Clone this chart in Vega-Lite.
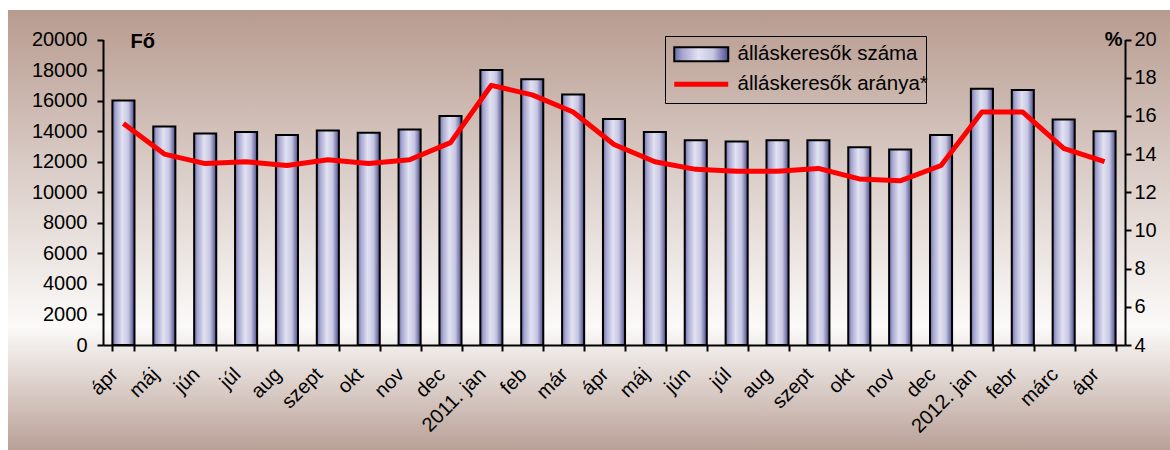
{
  "$schema": "https://vega.github.io/schema/vega-lite/v6.json",
  "width": 1162,
  "height": 440,
  "autosize": {"type": "none"},
  "padding": {"left": 8, "top": 10, "right": 0, "bottom": 0},
  "background": "white",
  "view": {
    "fill": {
      "gradient": "linear", "x1": 0, "y1": 0, "x2": 0, "y2": 1,
      "stops": [
        {"offset": 0, "color": "#b89b8f"},
        {"offset": 0.35, "color": "#d9cbc5"},
        {"offset": 0.72, "color": "#fbfaf9"},
        {"offset": 1, "color": "#b9a096"}
      ]
    },
    "stroke": null
  },
  "config": {"font": "Liberation Sans"},
  "data": {
    "values": [
      {"honap": "01|ápr", "fo": 16000, "arany": 15.6},
      {"honap": "02|máj", "fo": 14300, "arany": 14.0},
      {"honap": "03|jún", "fo": 13850, "arany": 13.5},
      {"honap": "04|júl", "fo": 13950, "arany": 13.6},
      {"honap": "05|aug", "fo": 13750, "arany": 13.4},
      {"honap": "06|szept", "fo": 14050, "arany": 13.7},
      {"honap": "07|okt", "fo": 13900, "arany": 13.5},
      {"honap": "08|nov", "fo": 14100, "arany": 13.7},
      {"honap": "09|dec", "fo": 15000, "arany": 14.6},
      {"honap": "10|2011. jan", "fo": 18000, "arany": 17.6},
      {"honap": "11|feb", "fo": 17400, "arany": 17.1},
      {"honap": "12|már", "fo": 16400, "arany": 16.2},
      {"honap": "13|ápr", "fo": 14800, "arany": 14.5},
      {"honap": "14|máj", "fo": 13950, "arany": 13.6},
      {"honap": "15|jún", "fo": 13400, "arany": 13.2},
      {"honap": "16|júl", "fo": 13330, "arany": 13.1},
      {"honap": "17|aug", "fo": 13400, "arany": 13.1},
      {"honap": "18|szept", "fo": 13400, "arany": 13.25},
      {"honap": "19|okt", "fo": 12950, "arany": 12.7},
      {"honap": "20|nov", "fo": 12800, "arany": 12.6},
      {"honap": "21|dec", "fo": 13750, "arany": 13.4},
      {"honap": "22|2012. jan", "fo": 16780, "arany": 16.2},
      {"honap": "23|febr", "fo": 16700, "arany": 16.2},
      {"honap": "24|márc", "fo": 14770, "arany": 14.3},
      {"honap": "25|ápr", "fo": 14000, "arany": 13.6}
    ]
  },
  "encoding": {
    "x": {
      "field": "honap", "type": "ordinal",
      "scale": {"range": [95, 1117], "paddingInner": 0.46, "paddingOuter": 0.23},
      "axis": {
        "orient": "bottom", "offset": -105, "title": null,
        "labelExpr": "split(datum.value, '|')[1]",
        "labelAngle": 315, "labelAlign": "right", "labelBaseline": "middle",
        "labelFontSize": 20, "labelColor": "black", "labelPadding": 20, "labelOffset": -9,
        "labelOverlap": false,
        "tickBand": "extent", "tickSize": 6, "tickWidth": 2, "tickColor": "black",
        "domainColor": "black", "domainWidth": 2, "grid": false, "zindex": 1
      }
    }
  },
  "layer": [
    {
      "mark": {
        "type": "bar",
        "strokeWidth": 2,
        "fill": {
          "gradient": "linear", "x1": 0, "y1": 0, "x2": 1, "y2": 0,
          "stops": [
            {"offset": 0, "color": "#6a6aa6"},
            {"offset": 0.15, "color": "#a6a6d0"},
            {"offset": 0.45, "color": "#e2e2f2"},
            {"offset": 0.72, "color": "#c6c6e2"},
            {"offset": 1, "color": "#4c4c8c"}
          ]
        }
      },
      "encoding": {
        "y": {
          "field": "fo", "type": "quantitative",
          "scale": {"domain": [0, 20000], "range": [335, 29.5], "nice": false},
          "axis": {
            "orient": "left", "offset": -95,
            "values": [0, 2000, 4000, 6000, 8000, 10000, 12000, 14000, 16000, 18000, 20000],
            "format": "d",
            "title": "Fő", "titleAngle": 0, "titleX": 27, "titleY": 37,
            "titleAlign": "left", "titleBaseline": "alphabetic",
            "titleFontSize": 20, "titleFontWeight": "bold", "titleColor": "black",
            "labelFontSize": 20, "labelColor": "black", "labelPadding": 10,
            "tickSize": 6, "tickWidth": 2, "tickColor": "black",
            "domainColor": "black", "domainWidth": 2, "grid": false, "zindex": 1
          }
        },
        "stroke": {
          "datum": "álláskeresők száma", "type": "nominal",
          "scale": {"range": ["#000000"]},
          "legend": {
            "orient": "none", "legendX": 657, "legendY": 26,
            "title": " ", "titleOrient": "bottom", "titleFontSize": 24, "titlePadding": 6,
            "strokeColor": "black", "padding": 8,
            "symbolType": "M-5,-1.3H5V1.3H-5Z",
            "symbolSize": 116.6, "symbolOffset": 18, "symbolStrokeWidth": 2,
            "labelOffset": 26, "labelFontSize": 20.5, "labelColor": "black", "labelLimit": 0
          }
        }
      }
    },
    {
      "mark": {"type": "line", "strokeWidth": 5, "strokeJoin": "round"},
      "encoding": {
        "y": {
          "field": "arany", "type": "quantitative",
          "scale": {"domain": [4, 20], "range": [335, 29.5], "nice": false, "zero": false},
          "axis": {
            "orient": "right", "offset": -45,
            "values": [4, 6, 8, 10, 12, 14, 16, 18, 20],
            "title": "%", "titleAngle": 0, "titleX": -3, "titleY": 35,
            "titleAlign": "right", "titleBaseline": "alphabetic",
            "titleFontSize": 20, "titleFontWeight": "bold", "titleColor": "black",
            "labelFontSize": 20, "labelColor": "black", "labelPadding": 3,
            "tickSize": 6, "tickWidth": 2, "tickColor": "black",
            "domainColor": "black", "domainWidth": 2, "grid": false, "zindex": 1
          }
        },
        "color": {
          "datum": "álláskeresők aránya*", "type": "nominal",
          "scale": {"range": ["#ff0000"]},
          "legend": {
            "orient": "none", "legendX": 665, "legendY": 64,
            "title": null, "padding": 0,
            "symbolType": "M-5,0H5",
            "symbolSize": 116.6, "symbolOffset": 18, "symbolStrokeWidth": 5,
            "labelOffset": 26, "labelFontSize": 20.5, "labelColor": "black", "labelLimit": 0
          }
        }
      }
    }
  ],
  "resolve": {"scale": {"y": "independent"}}
}
